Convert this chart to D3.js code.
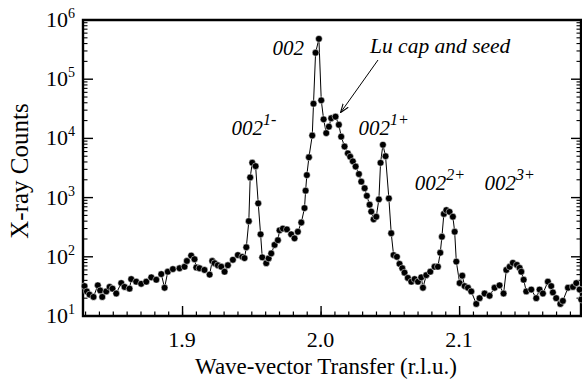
<!DOCTYPE html>
<html>
<head>
<meta charset="utf-8">
<script src="https://cdn.jsdelivr.net/npm/d3@7"></script>
<style>
  body { margin: 0; background: #fff; }
  svg text { font-family: "Liberation Serif", "Times New Roman", serif; fill: #000; }
</style>
</head>
<body>
<script>
// wave-vector transfer (r.l.u.) and x-ray counts
var q = [1.8296, 1.8313, 1.8332, 1.8361, 1.8392, 1.8409, 1.8424, 1.8453, 1.8477, 1.8498,
  1.8525, 1.8561, 1.8585, 1.8621, 1.8633, 1.8669, 1.8705, 1.8742, 1.8778, 1.8814,
  1.8850, 1.8874, 1.8897, 1.8934, 1.8982, 1.9018, 1.9035, 1.9066, 1.9090, 1.9103,
  1.9126, 1.9162, 1.9199, 1.9218, 1.9235, 1.9258, 1.9283, 1.9307, 1.9331, 1.9367,
  1.9403, 1.9435, 1.9451, 1.9464, 1.9482, 1.9492, 1.9507, 1.9531, 1.9550, 1.9567,
  1.9579, 1.9608, 1.9625, 1.9644, 1.9668, 1.9692, 1.9704, 1.9728, 1.9757, 1.9788,
  1.9812, 1.9836, 1.9861, 1.9884, 1.9892, 1.9901, 1.9916, 1.9940, 1.9949, 1.9964,
  1.9988, 2.0005, 2.0022, 2.0041, 2.0060, 2.0077, 2.0108, 2.0132, 2.0149, 2.0173,
  2.0197, 2.0214, 2.0233, 2.0253, 2.0277, 2.0294, 2.0318, 2.0334, 2.0354, 2.0366,
  2.0383, 2.0402, 2.0421, 2.0433, 2.0450, 2.0469, 2.0493, 2.0510, 2.0527, 2.0551,
  2.0570, 2.0590, 2.0606, 2.0630, 2.0655, 2.0679, 2.0703, 2.0727, 2.0739, 2.0763,
  2.0792, 2.0823, 2.0847, 2.0864, 2.0876, 2.0890, 2.0908, 2.0931, 2.0955, 2.0968,
  2.0980, 2.1004, 2.1023, 2.1040, 2.1064, 2.1088, 2.1124, 2.1148, 2.1184, 2.1220,
  2.1256, 2.1292, 2.1321, 2.1341, 2.1365, 2.1388, 2.1417, 2.1437, 2.1449, 2.1466,
  2.1485, 2.1521, 2.1557, 2.1581, 2.1605, 2.1641, 2.1665, 2.1677, 2.1701, 2.1731,
  2.1749, 2.1786, 2.1822, 2.1846, 2.1870, 2.1882];

var counts = [32, 26, 23, 21, 33, 27, 21, 26, 31, 29,
  24, 36, 31, 29, 42, 38, 35, 38, 45, 41,
  51, 30, 56, 62, 64, 68, 85, 105, 91, 66,
  64, 60, 50, 85, 78, 72, 68, 56, 72, 89,
  107, 100, 95, 145, 400, 2190, 3880, 3400, 800, 240,
  98, 78, 94, 114, 159, 191, 280, 300, 290, 240,
  205, 265, 380, 665, 1310, 2400, 4800, 11200, 38600, 280000,
  480000, 44000, 21000, 12300, 15800, 21900, 23300, 17000, 10700, 7300,
  5600, 4900, 4100, 3350, 2500, 1860, 1440, 1070, 760, 580,
  430, 475, 935, 3870, 7800, 5000, 970, 250, 107, 100,
  76, 64, 54, 44, 38, 42, 38, 45, 30, 49,
  56, 68, 68, 117, 218, 530, 615, 575, 475, 265,
  83, 36, 48, 32, 30, 26, 16, 20, 24, 22,
  30, 33, 24, 60, 68, 79, 73, 65, 56, 41,
  26, 28, 20, 28, 24, 38, 32, 25, 20, 16,
  18, 30, 31, 36, 28, 19];

var xTicks = [1.9, 2.0, 2.1];
var xTickLabels = ["1.9", "2.0", "2.1"];
var yExponents = [1, 2, 3, 4, 5, 6];

// peak labels: base text, superscript, position in data units
var peakNames = ["002", "002", "002", "002", "002"];
var peakSups = ["1-", "", "1+", "2+", "3+"];
var peakQ = [1.9357, 1.9653, 2.0274, 2.0679, 2.1184];
var peakC = [11500, 256000, 11500, 1350, 1350];

var W = 582, H = 388;
var pl = 83, pt = 20, pr = 581, pb = 316;

var svg = d3.select("body").append("svg")
  .attr("width", W)
  .attr("height", H);

var x = d3.scaleLinear().domain([1.8285, 2.188]).range([pl, pr]);
var y = d3.scaleLog().domain([10, 1e6]).range([pb, pt]);

// minor ticks along the bottom, every 0.01
var xMinor = d3.range(183, 219).map(function(d) { return d / 100; });
svg.append("g")
  .attr("transform", "translate(0," + pb + ")")
  .call(d3.axisBottom(x).tickValues(xMinor).tickSize(-4.5).tickFormat(""))
  .call(function(g) { g.select(".domain").remove(); })
  .selectAll("line").attr("stroke-width", 1.2);

svg.append("g")
  .attr("transform", "translate(0," + pb + ")")
  .call(d3.axisBottom(x).tickValues(xTicks).tickSize(-10).tickFormat(""))
  .call(function(g) { g.select(".domain").remove(); })
  .selectAll("line").attr("stroke-width", 1.4);

svg.selectAll("text.xlab")
  .data(xTicks)
  .enter()
  .append("text")
  .attr("class", "xlab")
  .attr("x", function(d) { return x(d); })
  .attr("y", 347)
  .attr("text-anchor", "middle")
  .attr("font-size", 22)
  .text(function(d, i) { return xTickLabels[i]; });

// log minor ticks on the left and right
var yMinor = [];
yExponents.slice(0, 5).forEach(function(e) {
  for (var m = 2; m <= 9; m++) yMinor.push(m * Math.pow(10, e));
});
var yMajor = yExponents.map(function(e) { return Math.pow(10, e); });

[[pl, 1], [pr, -1]].forEach(function(side) {
  var g = svg.append("g");
  g.selectAll("line.minor")
    .data(yMinor)
    .enter()
    .append("line")
    .attr("x1", side[0])
    .attr("x2", side[0] + side[1] * 4.5)
    .attr("y1", function(d) { return y(d); })
    .attr("y2", function(d) { return y(d); })
    .attr("stroke", "#000")
    .attr("stroke-width", 1.1);
  g.selectAll("line.major")
    .data(yMajor)
    .enter()
    .append("line")
    .attr("x1", side[0])
    .attr("x2", side[0] + side[1] * 10)
    .attr("y1", function(d) { return y(d); })
    .attr("y2", function(d) { return y(d); })
    .attr("stroke", "#000")
    .attr("stroke-width", 1.4);
});

var ylab = svg.selectAll("text.ylab")
  .data(yExponents)
  .enter()
  .append("text")
  .attr("class", "ylab")
  .attr("x", 75)
  .attr("y", function(d) { return y(Math.pow(10, d)) + 7; })
  .attr("text-anchor", "end")
  .attr("font-size", 22);
ylab.append("tspan").text("10");
ylab.append("tspan")
  .attr("dy", -9)
  .attr("font-size", 14)
  .text(function(d) { return d; });

// frame
svg.append("path")
  .attr("d", "M" + pl + "," + pb + "V" + pt + "H" + pr + "V" + pb + "Z")
  .attr("fill", "none")
  .attr("stroke", "#000")
  .attr("stroke-width", 2.4);

// data line and dots
var line = d3.line()
  .x(function(d, i) { return x(q[i]); })
  .y(function(d) { return y(d); });

svg.append("path")
  .datum(counts)
  .attr("d", line)
  .attr("fill", "none")
  .attr("stroke", "#000")
  .attr("stroke-width", 1);

svg.selectAll("circle")
  .data(counts)
  .enter()
  .append("circle")
  .attr("cx", function(d, i) { return x(q[i]); })
  .attr("cy", function(d) { return y(d); })
  .attr("r", 3.4)
  .attr("fill", "#000")
  .attr("stroke", "#fff")
  .attr("stroke-width", 0.5);

// peak labels
var peaks = svg.selectAll("text.peak")
  .data(peakNames)
  .enter()
  .append("text")
  .attr("class", "peak")
  .attr("x", function(d, i) { return x(peakQ[i]); })
  .attr("y", function(d, i) { return y(peakC[i]); })
  .attr("font-size", 21)
  .attr("font-style", "italic");
peaks.append("tspan").text(function(d) { return d; });
peaks.append("tspan")
  .attr("dy", -10)
  .attr("font-size", 16)
  .text(function(d, i) { return peakSups[i]; });

svg.append("text")
  .attr("x", 370)
  .attr("y", 53)
  .attr("font-size", 21.5)
  .attr("font-style", "italic")
  .text("Lu cap and seed");

svg.append("defs").append("marker")
  .attr("id", "head")
  .attr("viewBox", "0 0 10 10")
  .attr("refX", 9).attr("refY", 5)
  .attr("markerWidth", 9).attr("markerHeight", 9)
  .attr("markerUnits", "userSpaceOnUse")
  .attr("orient", "auto")
  .append("path")
  .attr("d", "M0,1.5L10,5L0,8.5")
  .attr("fill", "none")
  .attr("stroke", "#000")
  .attr("stroke-width", 1.2);

svg.append("line")
  .attr("x1", 378).attr("y1", 60)
  .attr("x2", 341).attr("y2", 112)
  .attr("stroke", "#000")
  .attr("stroke-width", 1)
  .attr("marker-end", "url(#head)");

// axis titles
svg.append("text")
  .attr("x", 326)
  .attr("y", 374)
  .attr("text-anchor", "middle")
  .attr("font-size", 23)
  .text("Wave-vector Transfer (r.l.u.)");

svg.append("text")
  .attr("transform", "translate(28,171) rotate(-90)")
  .attr("text-anchor", "middle")
  .attr("font-size", 25)
  .text("X-ray Counts");
</script>
</body>
</html>
